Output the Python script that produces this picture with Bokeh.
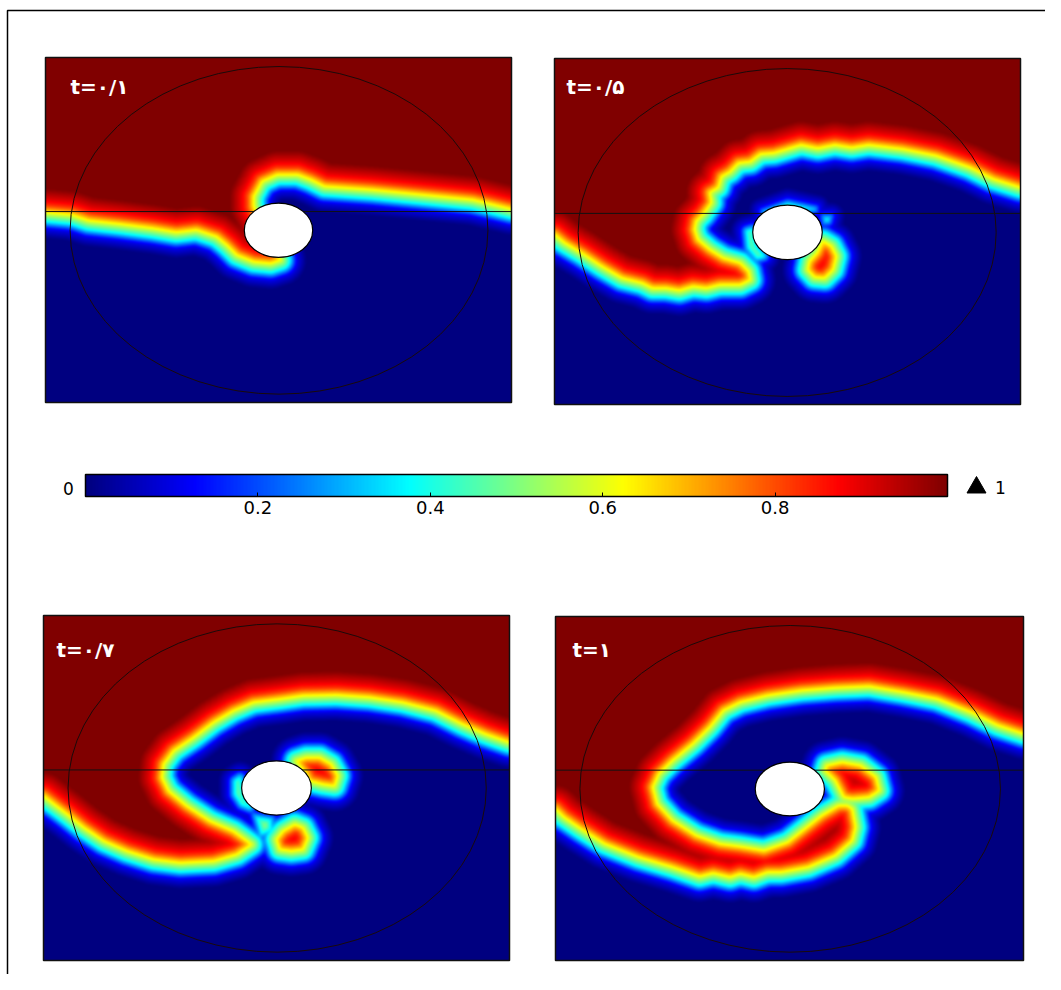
import numpy as np
from bokeh.plotting import figure
from bokeh.models import Range1d, LinearColorMapper, ColorBar, FixedTicker
from bokeh.core.properties import value
from bokeh.embed import file_html
from bokeh.resources import INLINE

# ---- data: contours of the 0.6 level, in the zoomed-crop units
T_LABELS = ["t=۰/۱", "t=۰/۵", "t=۰/۷", "t=۱"]
TICKS = [0.2, 0.4, 0.6, 0.8]

P1_MAIN = [(132,175),(1515,175),(1515,628),(1400,600),(1250,585),(1100,570),(960,560),(920,540),(880,525),(820,525),
           (775,545),(750,590),(750,620),(790,700),(830,780),(800,790),(750,785),(700,765),(670,735),(640,710),
           (580,690),(520,697),(450,685),(350,672),(260,662),(210,645),(132,638)]
P2_MAIN = [(70,60),(1450,60),(1450,445),(1370,420),(1300,385),(1200,350),(1100,330),(1000,318),(950,326),(900,318),
           (850,328),(800,318),(760,330),(720,342),(680,345),(650,368),(615,372),(590,398),(565,412),(555,445),(530,460),
           (535,490),(510,525),(490,545),(485,570),(495,600),(530,630),(570,655),(620,670),(645,695),(650,720),
           (620,735),(560,735),(520,745),(480,740),(440,752),(400,745),(360,745),(330,730),(270,715),(210,680),(150,640),(100,610),(70,585)]
P2_BLOB = [(865,605),(890,620),(905,650),(895,690),(870,715),(840,712),(820,690),(825,665),(848,640)]
P2_HALO_L = [(640,575),(655,570),(665,620),(690,650),(670,655),(645,625)]
P2_HALO_R = [(865,530),(890,530),(885,550),(868,552)]
P2_HALO_T = [(680,510),(760,480),(850,500),(850,520),(680,530)]
P3_MAIN = [(68,45),(1472,45),(1472,425),(1400,400),(1330,370),(1250,330),(1150,305),(1050,290),(950,283),(850,285),
           (780,295),(700,305),(640,330),(580,365),(520,410),(460,450),(430,490),(425,530),(445,570),(500,615),
           (570,660),(640,690),(675,715),(695,730),(650,760),(580,780),(480,785),(400,775),(320,750),(250,720),
           (190,680),(140,640),(100,610),(68,585)]
P3_BLOB_LOW = [(770,715),(790,690),(825,670),(850,680),(865,710),(850,745),(815,750),(780,745)]
P3_BLOB_UP = [(830,480),(860,470),(900,470),(935,490),(955,525),(945,555),(910,550),(870,540),(860,520)]
P3_HALO_L = [(645,540),(660,530),(670,590),(690,620),(665,610),(645,580)]
P3_HALO_B = [(700,640),(760,650),(760,690),(720,710)]
P4_MAIN = [(75,48),(1455,48),(1455,400),(1380,375),(1300,335),(1200,295),(1100,275),(1000,258),(900,262),(800,270),
           (700,285),(620,305),(570,330),(530,380),(480,430),(420,480),(380,520),(362,560),(375,610),(420,660),
           (490,705),(560,730),(620,738),(690,750),(760,725),(810,685),(860,645),(910,615),(935,615),(950,625),
           (960,680),(950,720),(900,765),(820,800),(740,815),(700,815),(660,830),(620,820),(590,830),(540,818),(500,828),(420,800),(320,770),
           (220,730),(150,685),(100,650),(75,625)]
P4_BLOB = [(875,495),(920,485),(975,495),(1020,530),(1030,570),(1000,590),(950,595),(925,590),(900,540),(870,510)]

# panel tables: zoom rect -> page rect, regions (polygon, level offset), big circle, small ellipse, line, label
PANELS = [
    dict(z=(132,1515,175,1205), r=(45,511,57,402), polys=[(P1_MAIN,0)], big=(205,1445,202,1180), small=(722,925,610,772), line=635, lab=(70,86)),
    dict(z=(70,1450,60,1092), r=(554,1020,58,404), polys=[(P2_MAIN,0),(P2_BLOB,0),(P2_HALO_L,9),(P2_HALO_R,12),(P2_HALO_T,14)], big=(140,1378,90,1068), small=(657,863,497,660), line=522, lab=(566,86)),
    dict(z=(68,1472,45,1077), r=(43,509,615,960), polys=[(P3_MAIN,0),(P3_BLOB_LOW,0),(P3_BLOB_UP,0),(P3_HALO_L,9),(P3_HALO_B,12)], big=(142,1402,70,1052), small=(665,875,480,642), line=507, lab=(56,649)),
    dict(z=(75,1455,48,1080), r=(555,1023,616,960), polys=[(P4_MAIN,0),(P4_BLOB,0)], big=(147,1387,75,1055), small=(664,868,485,646), line=509, lab=(572,649)),
]
BAND_D = [-26, -16, -9, 0, 7, 13, 24]
BAND_V = [0.0, 0.11, 0.38, 0.62, 0.82, 0.90, 1.0]
JET_POS = [0, 0.125, 0.375, 0.625, 0.875, 1]
JET_R = [0, 0, 0, 255, 255, 128]
JET_G = [0, 0, 255, 255, 0, 0]
JET_B = [128, 255, 255, 0, 0, 0]

t = np.linspace(0, 1, 256)
palette = ["#%02x%02x%02x" % (int(np.interp(a, JET_POS, JET_R)), int(np.interp(a, JET_POS, JET_G)), int(np.interp(a, JET_POS, JET_B))) for a in t]
mapper = LinearColorMapper(palette=palette, low=0, high=1)

p = figure(width=1045, height=974, x_range=Range1d(0, 1045), y_range=Range1d(974, 0),
           output_backend="svg", toolbar_location=None, min_border=0)
p.axis.visible = False
p.grid.visible = False
p.outline_line_color = None


def signed(px, py, poly):
    a = np.array(poly, float)
    b = np.roll(a, -1, axis=0)
    d2 = np.full(px.shape, 1e12)
    inside = np.zeros(px.shape, bool)
    for (x0, y0), (x1, y1) in zip(a, b):
        dx, dy = x1 - x0, y1 - y0
        u = np.clip(((px - x0) * dx + (py - y0) * dy) / (dx * dx + dy * dy + 1e-9), 0, 1)
        d2 = np.minimum(d2, (px - x0 - u * dx) ** 2 + (py - y0 - u * dy) ** 2)
        if dy != 0:
            c = ((y0 > py) != (y1 > py)) & (px < x0 + (py - y0) / dy * dx)
            inside ^= c
    return np.where(inside, 1, -1) * np.sqrt(d2)


def blur(v):
    for ax in (0, 1):
        e = np.pad(v, [(1, 1) if i == ax else (0, 0) for i in (0, 1)], mode="edge")
        v = (np.take(e, range(0, e.shape[ax] - 2), ax) + np.take(e, range(1, e.shape[ax] - 1), ax) + np.take(e, range(2, e.shape[ax]), ax)) / 3
    return v


def pushed(poly, z):
    """Move the polygon's border vertices off the panel, so that the border is no contour."""
    zx0, zx1, zy0, zy1 = z
    out = []
    for i, (a, b) in enumerate(poly):
        ax = a - 300 if a <= zx0 else a + 300 if a >= zx1 else a
        by = b - 300 if b <= zy0 else b
        if (ax, by) == (a, b):
            out.append((a, b))
        elif by != b:
            out.append((ax, by))
        else:
            pa, pb = poly[i - 1]
            if pb <= zy0:
                out += [(ax, by), (a, b)]
            else:
                out += [(a, b), (ax, by)]
    return out


for P, lab in zip(PANELS, T_LABELS):
    zx0, zx1, zy0, zy1 = P["z"]
    X0, X1, Y0, Y1 = P["r"]
    fx = lambda z: X0 + (z - zx0) * (X1 - X0) / (zx1 - zx0)
    fy = lambda z: Y0 + (z - zy0) * (Y1 - Y0) / (zy1 - zy0)
    gx, gy = np.meshgrid(np.arange(X0, X1) + 0.5, np.arange(Y0, Y1) + 0.5)
    d = None
    for poly, off in P["polys"]:
        q = [(fx(a), fy(b)) for a, b in pushed(poly, P["z"])]
        s = signed(gx, gy, q) - off
        d = s if d is None else np.maximum(d, s)
    v = np.interp(d, BAND_D, BAND_V)
    for _ in range(3):
        v = blur(v)
    p.image(image=[v], x=X0, y=Y0, dw=X1 - X0, dh=Y1 - Y0, color_mapper=mapper)
    p.rect(x=[(X0 + X1) / 2], y=[(Y0 + Y1) / 2], width=[X1 - X0], height=[Y1 - Y0], fill_color=None, line_color="#111111", line_width=1.5)
    b = P["big"]
    p.ellipse(x=[fx((b[0] + b[1]) / 2)], y=[fy((b[2] + b[3]) / 2)], width=[fx(b[1]) - fx(b[0])], height=[fy(b[3]) - fy(b[2])],
              fill_color=None, line_color="#1a0a0a", line_width=1)
    p.line(x=[X0, X1], y=[fy(P["line"])] * 2, line_color="#111111", line_width=1)
    s = P["small"]
    p.ellipse(x=[fx((s[0] + s[1]) / 2)], y=[fy((s[2] + s[3]) / 2)], width=[fx(s[1]) - fx(s[0])], height=[fy(s[3]) - fy(s[2])],
              fill_color="white", line_color="black", line_width=1.2)
    p.text(x=[P["lab"][0]], y=[P["lab"][1]], text=[lab], text_color="white", text_font=value("DejaVu Sans"),
           text_font_size="20px", text_font_style="bold", text_align="left", text_baseline="middle")

# outer frame: left and top edges only
p.line(x=[7, 7, 1045], y=[974, 10, 10], line_color="black", line_width=1.5)

# colour bar
cb = ColorBar(color_mapper=mapper, ticker=FixedTicker(ticks=TICKS), orientation="horizontal", width=862, height=22, location=(85, 458),
              margin=0, padding=0, major_tick_in=4, major_tick_out=0, major_tick_line_color="black",
              major_label_text_font="DejaVu Sans", major_label_text_font_size="18px", major_label_text_color="black",
              label_standoff=4, bar_line_color="black", bar_line_width=1.5, minor_tick_line_color=None)
p.add_layout(cb, "center")
p.segment(x0=[85 + 862 * k for k in TICKS], x1=[85 + 862 * k for k in TICKS], y0=[475] * 4, y1=[479] * 4, line_color="black", line_width=1.5)
p.text(x=[68, 1000], y=[488, 487], text=["0", "1"], text_color="black", text_font=value("DejaVu Sans"),
       text_font_size="17px", text_align="center", text_baseline="middle")
p.scatter(x=[976], y=[487], marker="triangle", size=19, fill_color="black", line_color="black")

open("out.html", "w").write(file_html(p, INLINE))
